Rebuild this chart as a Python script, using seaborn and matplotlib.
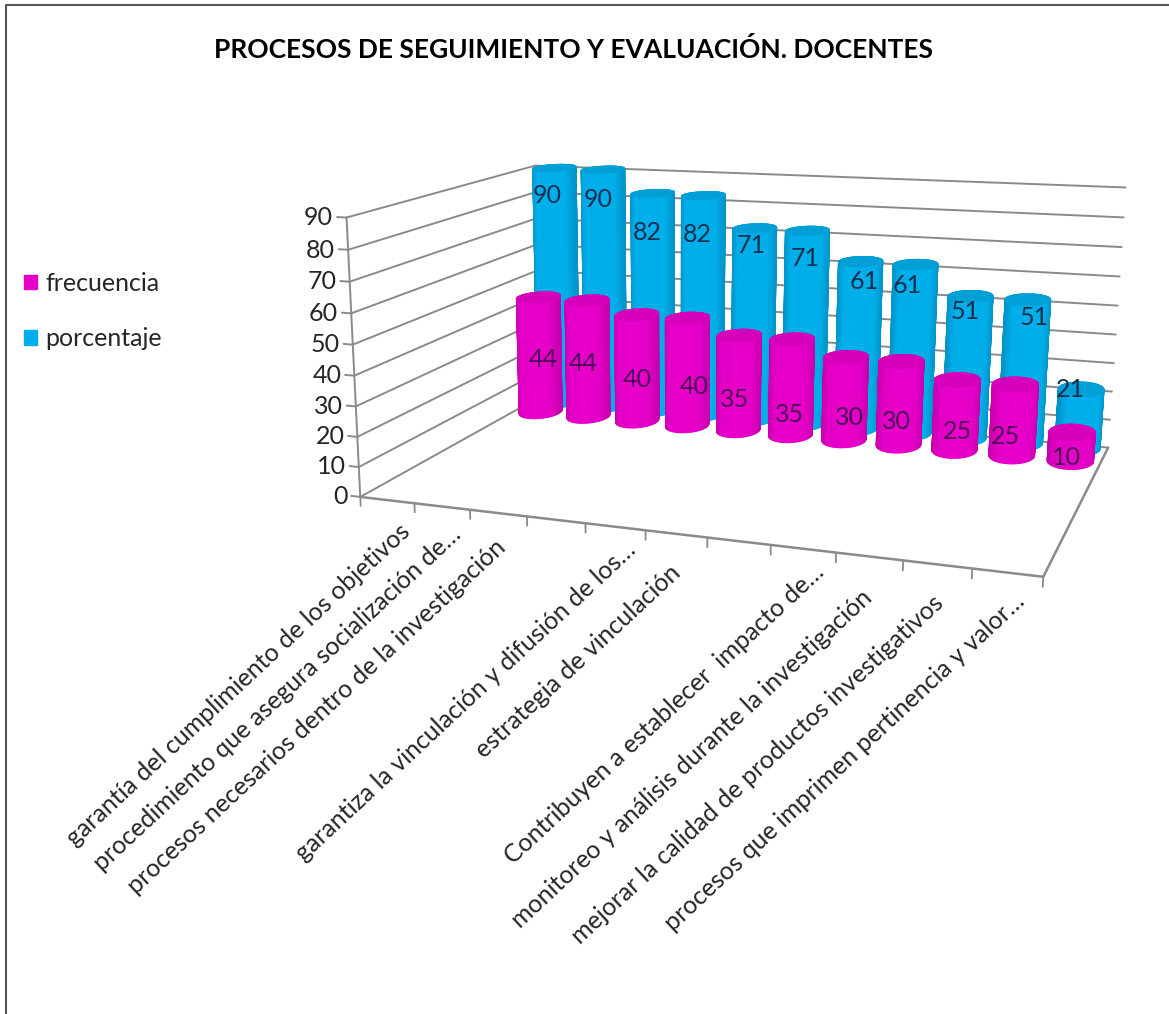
import numpy as np
import pandas as pd
import seaborn as sns
import matplotlib
matplotlib.use("Agg")
import matplotlib.pyplot as plt
from matplotlib.lines import Line2D
from matplotlib.patches import Patch
from mpl_toolkits.mplot3d import proj3d

categorias = [
    "garantía del cumplimiento de los objetivos",
    "procedimiento que asegura socialización de…",
    "procesos necesarios dentro de la investigación",
    "",
    "garantiza la vinculación y difusión de los…",
    "estrategia de vinculación",
    "",
    "Contribuyen a establecer  impacto de…",
    "monitoreo y análisis durante la investigación",
    "mejorar la calidad de productos investigativos",
    "procesos que imprimen pertinencia y valor…",
]
frecuencia = [44, 44, 40, 40, 35, 35, 30, 30, 25, 25, 10]
porcentaje = [90, 90, 82, 82, 71, 71, 61, 61, 51, 51, 21]
ticks_z = list(range(0, 100, 10))

titulo = "PROCESOS DE SEGUIMIENTO Y EVALUACIÓN. DOCENTES"
color_frec = "#E400C6"
color_porc = "#00AEEA"
gris = "#8A8A8A"
W, H = 1169, 1014
n_cat = len(categorias)
z_max = 90

# ajustes en pixeles de cada rotulo, el original los coloca de forma irregular
ajuste_frec = [(4, 5), (-5, 5), (0, 11), (7, 14), (-4, 16), (-2, 27), (4, 19), (-4, 18), (1, 16), (-8, 16), (-5, 11)]
ajuste_porc = [(-2, 5), (1, 7), (0, 20), (0, 19), (3, 2), (4, 12), (10, 9), (-1, 10), (2, 8), (14, 11), (-4, 6)]
ajuste_cat = [(11, 19), (8, 16), (-4, 22), (0, 0), (9, 11), (-7, 27), (0, 0), (9, 11), (-9, 29), (-5, 27), (6, 17)]

sns.set_theme(style="white")
plt.rcParams["font.family"] = ["Lato", "DejaVu Sans"]

df = pd.DataFrame({"categoria": categorias, "frecuencia": frecuencia, "porcentaje": porcentaje})

fig = plt.figure(figsize=(W / 100, H / 100), dpi=100)
# cuadrado que cubre toda la figura, asi nada se recorta
ax = fig.add_axes([0, (H - W) / 2 / H, 1, W / H], projection="3d")
ax.apply_aspect()
ax.set_xticks([])
ax.set_yticks([])
ax.set_zticks([])
ax.set_axis_off()
ax.computed_zorder = False


def fit_camera():
    # esquinas de la caja (x, y, z en 0-1) y donde caen en la imagen
    world = [(0, 0, 0), (1, 0, 0), (1, 1, 0), (0, 1, 0), (0, 0, 1), (0, 1, 1), (1, 1, 1)]
    pixels = [(362, 492), (1043, 582), (1109, 441), (538, 403), (345, 218), (537, 163), (1125, 190)]
    pts = ax.transData.inverted().transform([(px, H - py) for px, py in pixels])
    rows = []
    for (x, y, z), (u, v) in zip(world, pts):
        rows.append([x, y, z, 1, 0, 0, 0, 0, -u * x, -u * y, -u * z, -u])
        rows.append([0, 0, 0, 0, x, y, z, 1, -v * x, -v * y, -v * z, -v])
    p = np.linalg.svd(np.array(rows))[2][-1].reshape(3, 4)
    if p[2] @ np.array([0.5, 0.5, 0.5, 1]) < 0:
        p = -p
    p = p / (p[2] @ np.array([0.5, 0.5, 0.5, 1]))
    m = np.vstack([p[0], p[1], [0, 0, 0, -1], p[2]])
    return m @ np.diag([1 / n_cat, 1, 1 / z_max, 1])


cam = fit_camera()
ax.get_proj = lambda: cam
ax.M = cam


def cylinder(xc, yc, height, base_color, zorder):
    rx, ry = 0.38, 0.075
    theta = np.linspace(0, 2 * np.pi, 73)
    edge = sns.set_hls_values(base_color, l=0.39)
    light = sns.set_hls_values(base_color, l=0.46)
    shade = sns.blend_palette([edge, base_color, base_color, light, base_color, base_color, edge], n_colors=101)
    idx = ((np.sin(theta + np.radians(75)) + 1) / 2 * 100).astype(int)
    cols = np.array([shade[i] + (1,) for i in idx])
    xs = xc + rx * np.cos(theta)
    ys = yc + ry * np.sin(theta)
    X = np.vstack([xs, xs])
    Y = np.vstack([ys, ys])
    Z = np.vstack([np.zeros_like(xs), np.full_like(xs, height)])
    ax.plot_surface(X, Y, Z, facecolors=np.stack([cols, cols]), rstride=1, cstride=1,
                    shade=False, zorder=zorder)
    top = sns.set_hls_values(base_color, l=0.42)
    rr = np.array([0, 1])
    X2 = xc + rx * np.outer(rr, np.cos(theta))
    Y2 = yc + ry * np.outer(rr, np.sin(theta))
    Z2 = np.full_like(X2, height)
    ax.plot_surface(X2, Y2, Z2, color=top, rstride=1, cstride=1, shade=False,
                    edgecolor=top, zorder=zorder + 0.1)


def label_3d(x, y, z, text, dx, dy, **kw):
    # proyecta el punto 3D y coloca el texto con desfase en pixeles
    xp, yp, _ = proj3d.proj_transform(x, y, z, cam)
    ax.annotate(text, xy=(xp, yp), xytext=(dx * 0.72, -dy * 0.72), textcoords="offset points",
                annotation_clip=False, **kw)


# paredes y piso
for v in ticks_z:
    ax.plot([0, 0, n_cat], [0, 1, 1], [v, v, v], color=gris, lw=1.4, zorder=1)
    ax.plot([0, -0.17], [0, 0], [v, v], color=gris, lw=1.4, zorder=1)
    label_3d(-0.24, 0, v, str(v), 0, 1, ha="right", va="center", fontsize=18, color="#262626", zorder=2)
ax.plot([0, 0], [0, 0], [0, z_max], color=gris, lw=1.4, zorder=1)
ax.plot([0, n_cat, n_cat], [0, 0, 1], [0, 0, 0], color=gris, lw=1.8, zorder=1)
for i in range(n_cat + 1):
    ax.plot([i, i], [0, 0], [0, -3], color=gris, lw=1.3, zorder=1)

# cilindros, del fondo hacia adelante
y_porc, y_frec = 0.97, 0.85
for i, row in df.iterrows():
    cylinder(i + 0.5, y_porc, row["porcentaje"], color_porc, 10 + i)
for i, row in df.iterrows():
    cylinder(i + 0.5, y_frec, row["frecuencia"], color_frec, 30 + i)

for i, row in df.iterrows():
    label_3d(i + 0.38, y_porc, 0.85 * row["porcentaje"] + 5, str(row["porcentaje"]), *ajuste_porc[i],
             ha="center", va="center", fontsize=18, color="#14304F", zorder=60)
    label_3d(i + 0.5, y_frec, row["frecuencia"] / 2, str(row["frecuencia"]), *ajuste_frec[i],
             ha="center", va="center", fontsize=18, color="#4A0A55", zorder=60)

# etiquetas de categoria giradas
for i, label in enumerate(categorias):
    if label:
        label_3d(i + 0.5, 0, 0, label, *ajuste_cat[i], rotation=43, ha="right", va="top",
                 rotation_mode="anchor", fontsize=18, color="#262626")

fig.text(573 / W, 1 - 50 / H, titulo, ha="center", va="center", fontsize=19, fontweight="bold",
         color="black")
fig.legend(handles=[Patch(color=color_frec, label="frecuencia"), Patch(color=color_porc, label="porcentaje")],
           loc="upper left", bbox_to_anchor=(24 / W, 1 - 272 / H), frameon=False, fontsize=18,
           handlelength=0.52, handleheight=0.52, handletextpad=0.32, labelspacing=1.3,
           labelcolor="#262626", borderpad=0, borderaxespad=0)
fig.add_artist(Line2D([5.5 / W, 5.5 / W, 1], [0, 1 - 4.5 / H, 1 - 4.5 / H], color="#555555", lw=1.5))

fig.savefig("out.png", dpi=100)
